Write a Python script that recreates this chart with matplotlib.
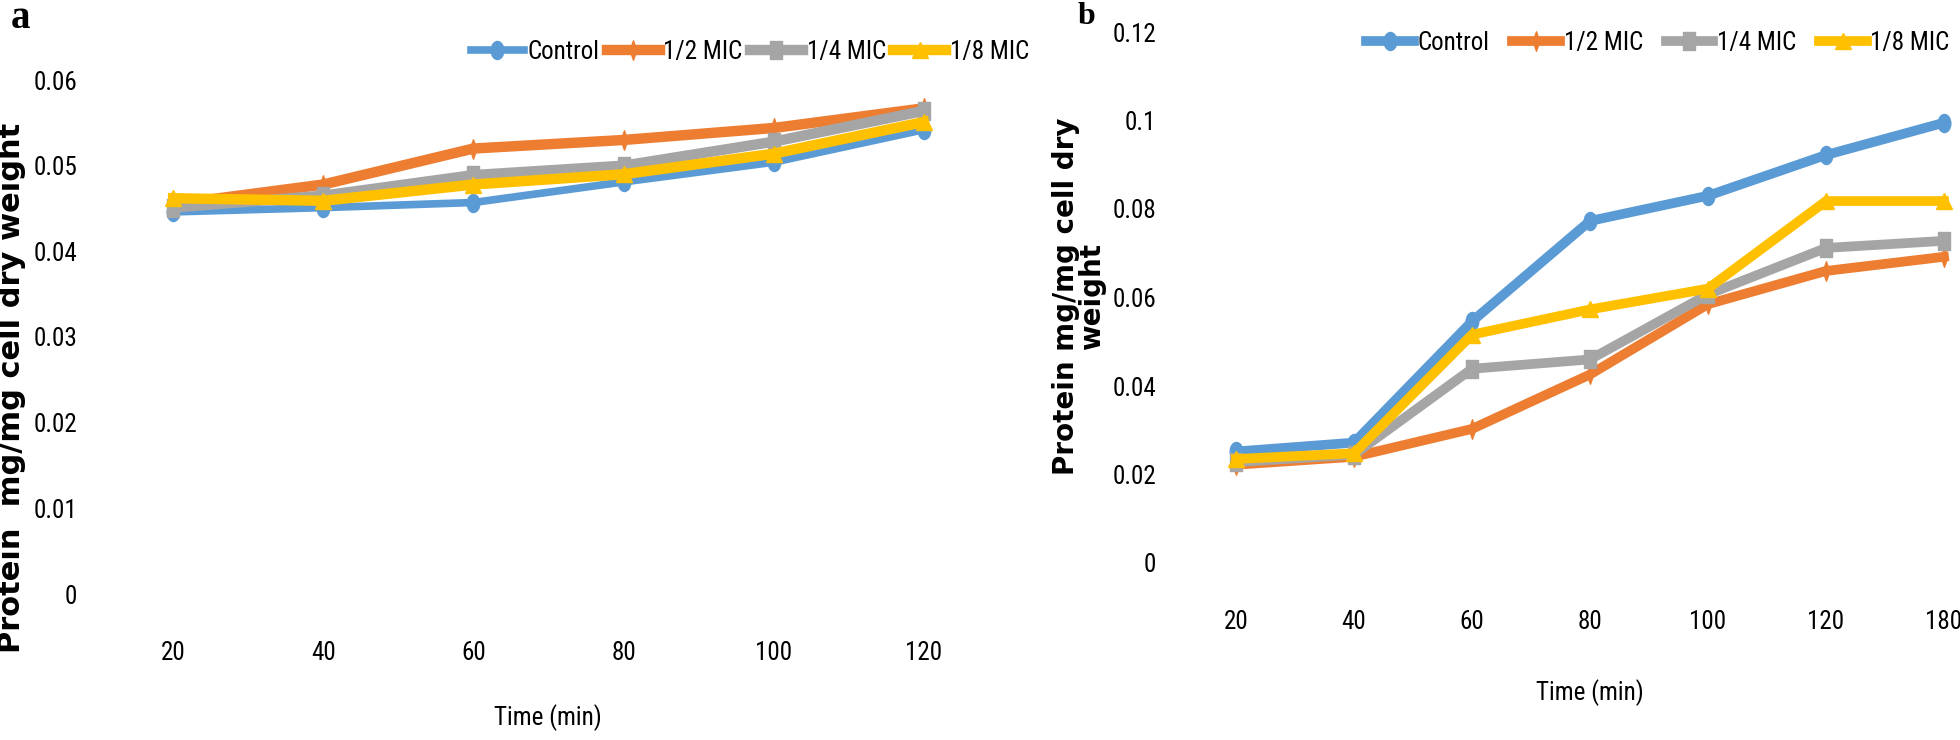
import os
import numpy as np
import matplotlib
matplotlib.use("Agg")
import matplotlib.pyplot as plt
from matplotlib import font_manager
from matplotlib.font_manager import FontProperties
from matplotlib.textpath import TextPath
from matplotlib.path import Path
from matplotlib.transforms import Affine2D

# ====== data ======
series_names = ["Control", "1/2 MIC", "1/4 MIC", "1/8 MIC"]

time_a = ["20", "40", "60", "80", "100", "120"]
control_a = [0.0446, 0.0451, 0.0457, 0.0481, 0.0504, 0.0542]
half_a    = [0.0455, 0.0478, 0.0520, 0.0530, 0.0544, 0.0567]
quarter_a = [0.0451, 0.0465, 0.0489, 0.0500, 0.0528, 0.0564]
eighth_a  = [0.0462, 0.0459, 0.0478, 0.0490, 0.0514, 0.0551]
yticks_a = [0, 0.01, 0.02, 0.03, 0.04, 0.05, 0.06]
ylabels_a = ["0", "0.01", "0.02", "0.03", "0.04", "0.05", "0.06"]

time_b = ["20", "40", "60", "80", "100", "120", "180"]
control_b = [0.0252, 0.0272, 0.0546, 0.0773, 0.0830, 0.0922, 0.0995]
half_b    = [0.0222, 0.0240, 0.0303, 0.0426, 0.0585, 0.0660, 0.0692]
quarter_b = [0.0228, 0.0245, 0.0439, 0.0460, 0.0607, 0.0712, 0.0728]
eighth_b  = [0.0235, 0.0248, 0.0516, 0.0573, 0.0620, 0.0818, 0.0818]
yticks_b = [0, 0.02, 0.04, 0.06, 0.08, 0.1, 0.12]
ylabels_b = ["0", "0.02", "0.04", "0.06", "0.08", "0.1", "0.12"]

colors = ["#5B9BD5", "#ED7D31", "#A5A5A5", "#FFC000"]

# markers (Excel-like, a bit squashed horizontally)
m_ellipse = Path.unit_circle().transformed(Affine2D().scale(0.7, 1.0))
m_thin = Path([(0, 1), (0.35, 0), (0, -1), (-0.35, 0), (0, 1)],
              [Path.MOVETO, Path.LINETO, Path.LINETO, Path.LINETO, Path.CLOSEPOLY])
m_rect = Path([(-0.7, -1), (0.7, -1), (0.7, 1), (-0.7, 1), (-0.7, -1)],
              [Path.MOVETO, Path.LINETO, Path.LINETO, Path.LINETO, Path.CLOSEPOLY])
markers = [m_ellipse, m_thin, m_rect, "^"]
msizes = [13, 14, 13, 12]


# ====== font: look for a narrow / condensed sans (Excel text is squeezed) ======
def pick_narrow():
    bad = ["bold", "italic", "oblique", "light", "semi", "extra", "ultra", "medium",
           "black", "thin", "heavy", "mono", "serif"]
    found = {}
    for f in font_manager.fontManager.ttflist:
        fn = os.path.basename(f.fname).lower()
        if ("narrow" in fn or "condensed" in fn) and not any(b in fn for b in bad):
            found.setdefault(f.name, f.fname)
    for pref in ["Liberation Sans Narrow", "Roboto Condensed", "Open Sans Condensed",
                 "Noto Sans Condensed", "Noto Sans", "Open Sans", "DejaVu Sans Condensed",
                 "DejaVu Sans"]:
        if pref in found:
            return found[pref]
    if found:
        return sorted(found.values())[0]
    return None


narrow = pick_narrow()
if narrow:
    tick_fp = FontProperties(fname=narrow)
else:
    tick_fp = FontProperties(family="Liberation Sans")

# size: mostly from the width of "Control" (~64 px), a little from digit height (~23 px)
w1 = TextPath((0, 0), "Control", size=1, prop=tick_fp).get_extents().width
h1 = TextPath((0, 0), "0", size=1, prop=tick_fp).get_extents().height
s_w = 64 * 0.72 / w1
s_h = 23 * 0.72 / h1
FS = float(np.clip(s_w ** 0.75 * s_h ** 0.25, 13, 21))
tick_fp.set_size(FS)

W, H = 1960, 740
fig = plt.figure(figsize=(W / 100, H / 100), dpi=100)


def px_axes(left, right, top, bottom):
    return fig.add_axes([left / W, 1 - bottom / H, (right - left) / W, (bottom - top) / H])


def style_axes(ax, cats, yt, yl, ymax):
    ax.set_facecolor("none")
    for s in ax.spines.values():
        s.set_visible(False)
    ax.set_xlim(-0.5, len(cats) - 0.5)
    ax.set_ylim(0, ymax)
    ax.set_xticks(range(len(cats)))
    ax.set_xticklabels(cats, fontproperties=tick_fp)
    ax.set_yticks(yt)
    ax.set_yticklabels(yl, fontproperties=tick_fp)
    ax.tick_params(axis="both", length=0)
    ax.tick_params(axis="y", pad=15)
    ax.tick_params(axis="x", pad=34)


def draw(ax, data, lw):
    x = np.arange(len(data[0]))
    lines = []
    for i, ys in enumerate(data):
        ln, = ax.plot(x, ys, color=colors[i], lw=lw[i], marker=markers[i],
                      ms=msizes[i], mfc=colors[i], mec=colors[i],
                      label=series_names[i], clip_on=False, solid_joinstyle="round")
        lines.append(ln)
    return lines


# ====== panel a ======
ax_a = px_axes(98, 999, 80, 594)
style_axes(ax_a, time_a, yticks_a, ylabels_a, 0.06)
la = draw(ax_a, [control_a, half_a, quarter_a, eighth_a], [5.5, 7.5, 7.5, 7.5])
fig.legend(handles=la, loc="center", bbox_to_anchor=(750 / W, 1 - 52 / H), ncol=4,
           frameon=False, prop=tick_fp,
           handlelength=2.1, handletextpad=0.15, columnspacing=0.3, borderaxespad=0)

# ====== panel b ======
ax_b = px_axes(1177, 2003, 32, 563)
style_axes(ax_b, time_b, yticks_b, ylabels_b, 0.12)
lb = draw(ax_b, [control_b, half_b, quarter_b, eighth_b], [7, 7, 7, 7])
fig.legend(handles=lb, loc="center", bbox_to_anchor=(1658 / W, 1 - 43 / H), ncol=4,
           frameon=False, prop=tick_fp,
           handlelength=1.9, handletextpad=0.15, columnspacing=0.9, borderaxespad=0)

# ====== texts ======
fig.text(548 / W, 1 - 718 / H, "Time (min)", ha="center", va="center",
         fontproperties=tick_fp)
fig.text(1590 / W, 1 - 693 / H, "Time (min)", ha="center", va="center",
         fontproperties=tick_fp)

fig.text(12 / W, 1 - 388 / H, "Protein  mg/mg cell dry weight", rotation=90,
         ha="center", va="center", family="DejaVu Sans", fontweight="bold", fontsize=22)
fig.text(1079 / W, 1 - 296 / H, "Protein mg/mg cell dry\nweight", rotation=90,
         ha="center", va="center", multialignment="center", linespacing=0.92,
         family="DejaVu Sans", fontweight="bold", fontsize=20)

fig.text(20 / W, 1 - 18 / H, "a", ha="center", va="center",
         family="Liberation Serif", fontweight="bold", fontsize=28)
fig.text(1086 / W, 1 - 16 / H, "b", ha="center", va="center",
         family="Liberation Serif", fontweight="bold", fontsize=23)

fig.savefig("out.png", dpi=100, facecolor="white")
